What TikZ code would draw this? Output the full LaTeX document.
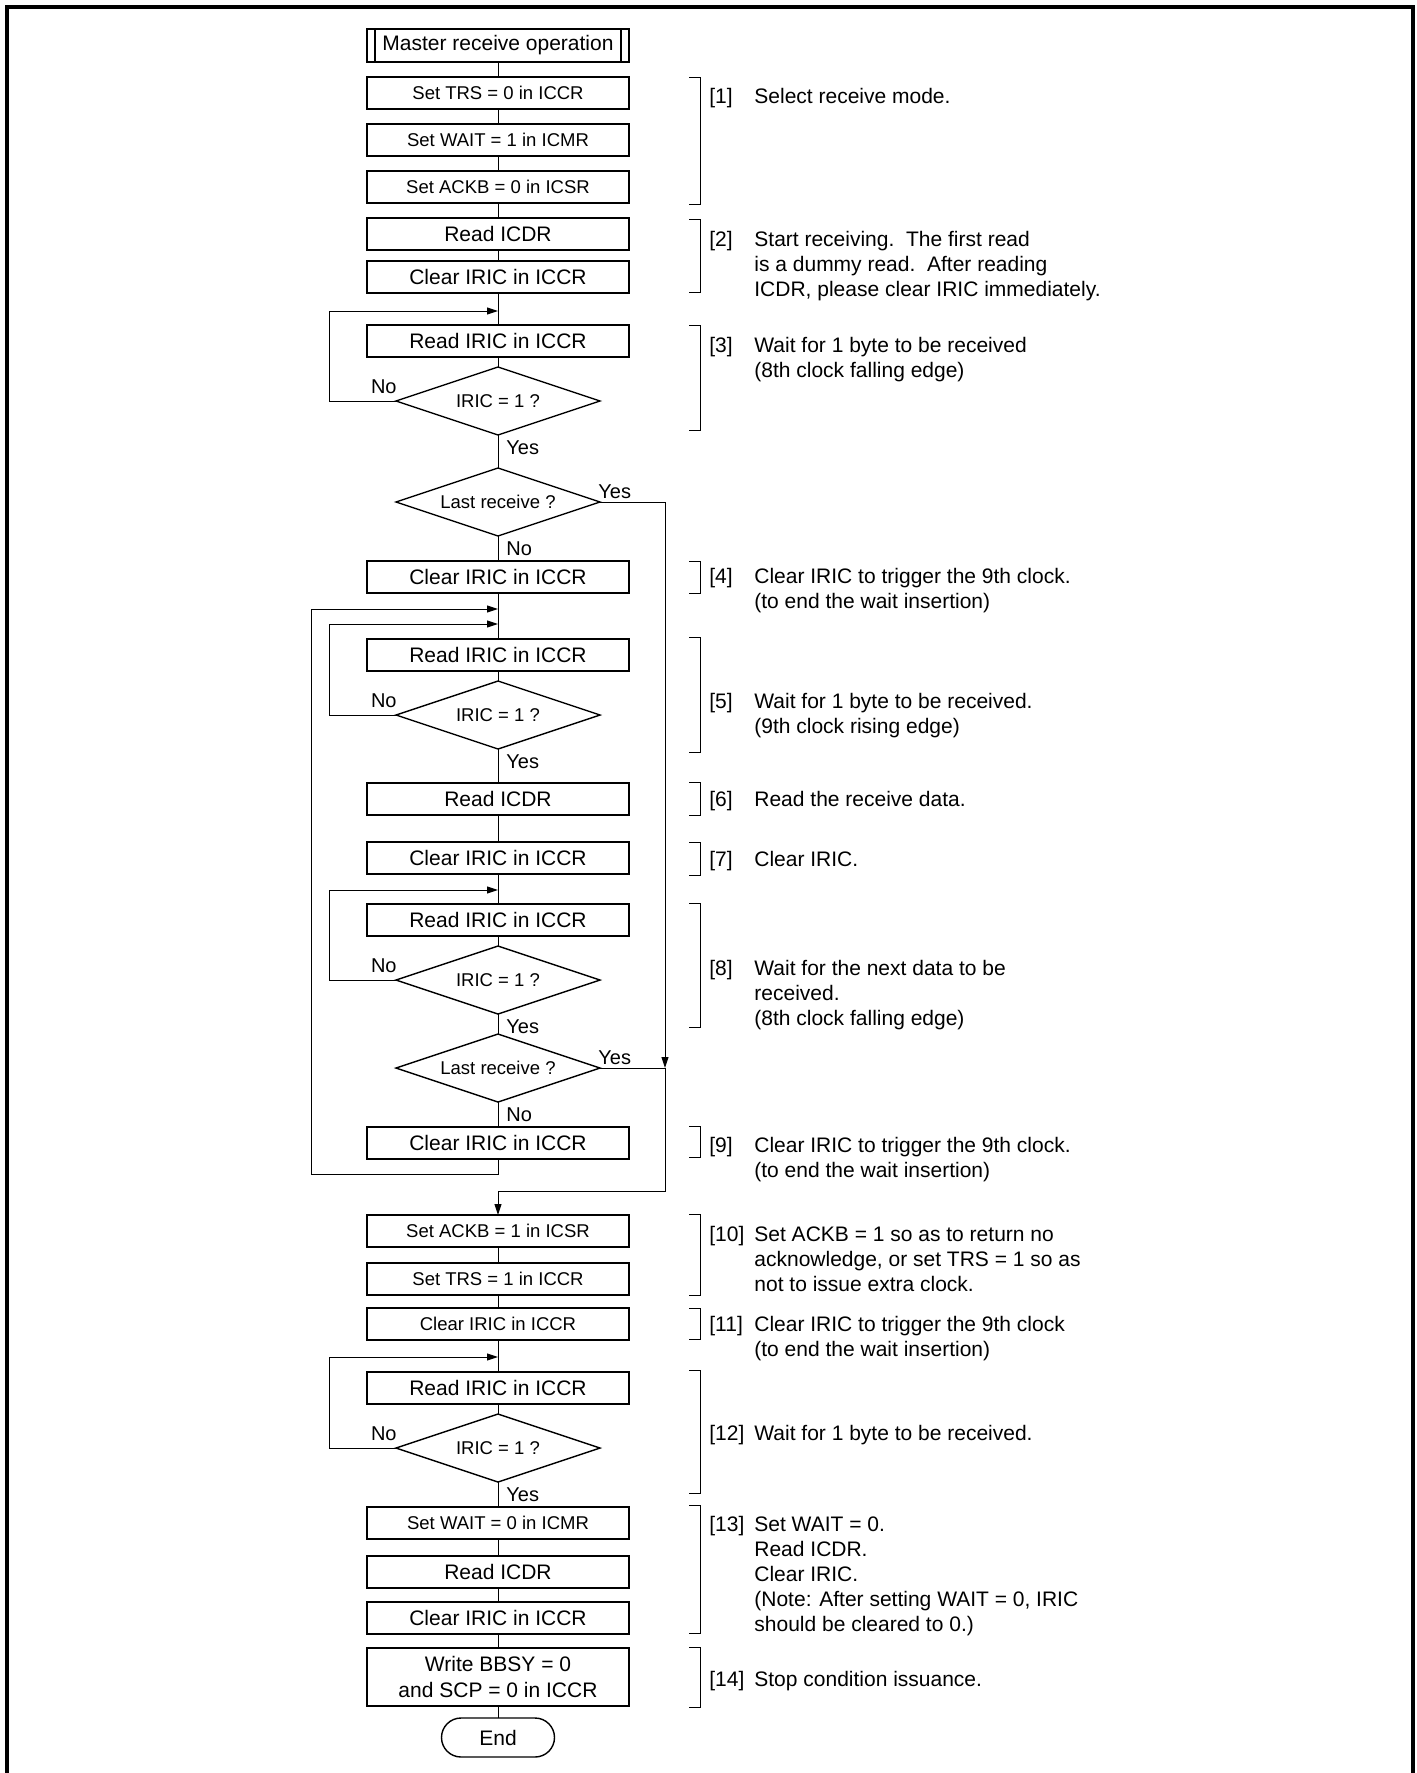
\documentclass[tikz,border=0pt]{standalone}
\usepackage{fontspec}
\setmainfont{Liberation Sans}
\usetikzlibrary{shapes.geometric, arrows.meta, positioning}
\newcommand{\boxfont}{\fontsize{10.5pt}{12.6pt}\selectfont}
\newcommand{\smallboxfont}{\fontsize{9.25pt}{11pt}\selectfont}
\newcommand{\lblfont}{\fontsize{10pt}{12pt}\selectfont}
\newcommand{\notetext}[2]{\begin{tabular}{@{}p{22.5pt}@{}l@{}}#1&#2\end{tabular}}

\begin{document}
\begin{tikzpicture}[x=0.5pt, y=-0.5pt,
    box/.style={draw, line width=0.7pt, minimum width=131pt, minimum height=16pt, inner sep=0pt,
    outer sep=0pt, align=center, font=\boxfont},
    sbox/.style={box, font=\smallboxfont},
    dec/.style={draw, diamond, aspect=3, line width=0.7pt, minimum width=102pt, minimum height=34pt,
    inner sep=0pt, outer sep=0pt, font=\smallboxfont},
    term/.style={draw, line width=0.7pt, rounded corners=9.75pt, minimum width=56.5pt,
    minimum height=19.5pt, inner sep=0pt, outer sep=0pt, font=\boxfont},
    conn/.style={line width=0.5pt},
    flow/.style={conn, -{Triangle[length=5.5pt, width=3.5pt]}},
    brk/.style={line width=0.5pt},
    note/.style={anchor=north west, inner sep=0pt, font=\boxfont},
    yeslbl/.style={anchor=north west, inner sep=1.5pt, xshift=2.5pt, yshift=-1pt, font=\lblfont},
    nolbl/.style={anchor=south east, inner sep=1.5pt, xshift=2pt, yshift=2pt, font=\lblfont},
    sidelbl/.style={anchor=south west, inner sep=1.5pt, xshift=-2.5pt, font=\lblfont}
  ]
  \useasboundingbox (0,0) rectangle (1417,1773);
  \draw[line width=1.6pt] (7,1773) -- (7,7) -- (1413,7) -- (1413,1773);

  % main column
  \node[box, minimum height=16.5pt] (start) at (498,45.5) {Master receive operation};
  \node[sbox, below=7.5pt of start] (trs0) {Set TRS = 0 in ICCR};
  \node[sbox, below=7.5pt of trs0] (wait1) {Set WAIT = 1 in ICMR};
  \node[sbox, below=7.5pt of wait1] (ackb0) {Set ACKB = 0 in ICSR};
  \node[box, below=7.5pt of ackb0] (rdr1) {Read ICDR};
  \node[box, below=5.5pt of rdr1] (clr1) {Clear IRIC in ICCR};
  \node[box, below=16pt of clr1] (rdi1) {Read IRIC in ICCR};
  \node[dec, below=5pt of rdi1] (dia1) {IRIC = 1 ?};
  \node[dec, below=16.5pt of dia1] (last1) {Last receive ?};
  \node[box, below=12.5pt of last1] (clr2) {Clear IRIC in ICCR};
  \node[box, below=23pt of clr2] (rdi2) {Read IRIC in ICCR};
  \node[dec, below=5pt of rdi2] (dia2) {IRIC = 1 ?};
  \node[box, below=17pt of dia2] (rdr2) {Read ICDR};
  \node[box, below=13.5pt of rdr2] (clr3) {Clear IRIC in ICCR};
  \node[box, below=15pt of clr3] (rdi3) {Read IRIC in ICCR};
  \node[dec, below=5pt of rdi3] (dia3) {IRIC = 1 ?};
  \node[dec, below=10pt of dia3] (last2) {Last receive ?};
  \node[box, below=12.5pt of last2] (clr4) {Clear IRIC in ICCR};
  \node[sbox, below=28pt of clr4] (ackb1) {Set ACKB = 1 in ICSR};
  \node[sbox, below=8pt of ackb1] (trs1) {Set TRS = 1 in ICCR};
  \node[sbox, below=6.5pt of trs1] (clr5) {Clear IRIC in ICCR};
  \node[box, below=16pt of clr5] (rdi4) {Read IRIC in ICCR};
  \node[dec, below=5pt of rdi4] (dia4) {IRIC = 1 ?};
  \node[sbox, below=12.5pt of dia4] (wait0) {Set WAIT = 0 in ICMR};
  \node[box, below=8.5pt of wait0] (rdr3) {Read ICDR};
  \node[box, below=7pt of rdr3] (clr6) {Clear IRIC in ICCR};
  \node[box, minimum height=29pt, below=7pt of clr6] (bbsy) {Write BBSY = 0\\and SCP = 0 in ICCR};
  \node[term, below=6pt of bbsy] (stop) {End};
  \draw[line width=0.7pt] ([xshift=4pt]start.north west) -- ([xshift=4pt]start.south west)
    ([xshift=-4pt]start.north east) -- ([xshift=-4pt]start.south east);

  % branch labels
  \node[nolbl] (no1) at (dia1.west) {No};
  \node[yeslbl] (yes1) at (dia1.south) {Yes};
  \node[sidelbl] (yes2) at (last1.east) {Yes};
  \node[yeslbl] (no2) at (last1.south) {No};
  \node[nolbl] (no3) at (dia2.west) {No};
  \node[yeslbl] (yes3) at (dia2.south) {Yes};
  \node[nolbl] (no4) at (dia3.west) {No};
  \node[yeslbl] (yes4) at (dia3.south) {Yes};
  \node[sidelbl] (yes5) at (last2.east) {Yes};
  \node[yeslbl] (no5) at (last2.south) {No};
  \node[nolbl] (no6) at (dia4.west) {No};
  \node[yeslbl] (yes6) at (dia4.south) {Yes};

  % connectors
  \draw[conn] (start) -- (trs0) -- (wait1) -- (ackb0) -- (rdr1) -- (clr1) -- (rdi1) -- (dia1)
    -- (last1) -- (clr2) -- (rdi2) -- (dia2) -- (rdr2) -- (clr3) -- (rdi3) -- (dia3) -- (last2) -- (clr4);
  \draw[conn] (ackb1) -- (trs1) -- (clr5) -- (rdi4) -- (dia4) -- (wait0) -- (rdr3) -- (clr6) -- (bbsy) -- (stop);
  \draw[flow] (dia1.west) -- ++(-33.5pt,0pt) |- ([yshift=7pt]rdi1.north);
  \draw[flow] (dia2.west) -- ++(-33.5pt,0pt) |- ([yshift=7.5pt]rdi2.north);
  \draw[flow] (dia3.west) -- ++(-33.5pt,0pt) |- ([yshift=7pt]rdi3.north);
  \draw[flow] (dia4.west) -- ++(-33.5pt,0pt) |- ([yshift=7.5pt]rdi4.north);
  \draw[flow] (clr4.south) -- ([yshift=-7.5pt]clr4.south) -| ([xshift=-93.5pt,yshift=15pt]rdi2.north)
    -- ([yshift=15pt]rdi2.north);
  \coordinate (jn) at ([xshift=32.5pt]last2.east);
  \draw[flow] (last1.east) -- ++(32.5pt,0pt) -- (jn);
  \draw[conn] (last2.east) -- (jn);
  \draw[flow] (jn) |- ([yshift=12pt]ackb1.north) -- (ackb1.north);

  % notes
  \foreach \t/\b in {77/204, 219/292, 325/430, 561/593, 637/752, 782/815, 842/875, 903/1027,
    1126/1157, 1214/1295, 1308/1339, 1370/1493, 1505/1633, 1647/1707}
    \draw[brk] (689,\t) -- (700,\t) -- (700,\b) -- (689,\b);
  \node[note] (note1) at (709,85) {\notetext{[1]}{Select receive mode.}};
  \node[note] (note2) at (709,228) {\notetext{[2]}{Start receiving.\ \ The first read\\
    & is a dummy read.\ \ After reading\\ & ICDR, please clear IRIC immediately.}};
  \node[note] (note3) at (709,334) {\notetext{[3]}{Wait for 1 byte to be received\\
    & (8th clock falling edge)}};
  \node[note] (note4) at (709,565) {\notetext{[4]}{Clear IRIC to trigger the 9th clock.\\
    & (to end the wait insertion)}};
  \node[note] (note5) at (709,690) {\notetext{[5]}{Wait for 1 byte to be received.\\
    & (9th clock rising edge)}};
  \node[note] (note6) at (709,788) {\notetext{[6]}{Read the receive data.}};
  \node[note] (note7) at (709,848) {\notetext{[7]}{Clear IRIC.}};
  \node[note] (note8) at (709,957) {\notetext{[8]}{Wait for the next data to be\\
    & received.\\ & (8th clock falling edge)}};
  \node[note] (note9) at (709,1134.5) {\notetext{[9]}{Clear IRIC to trigger the 9th clock.\\
    & (to end the wait insertion)}};
  \node[note] (note10) at (709,1223) {\notetext{[10]}{Set ACKB = 1 so as to return no\\
    & acknowledge, or set TRS = 1 so as\\ & not to issue extra clock.}};
  \node[note] (note11) at (709,1313) {\notetext{[11]}{Clear IRIC to trigger the 9th clock\\
    & (to end the wait insertion)}};
  \node[note] (note12) at (709,1422) {\notetext{[12]}{Wait for 1 byte to be received.}};
  \node[note] (note13) at (709,1513) {\notetext{[13]}{Set WAIT = 0.\\ & Read ICDR.\\ & Clear IRIC.\\
    & (Note: After setting WAIT = 0, IRIC\\ & should be cleared to 0.)}};
  \node[note] (note14) at (709,1668) {\notetext{[14]}{Stop condition issuance.}};
\end{tikzpicture}
\end{document}
